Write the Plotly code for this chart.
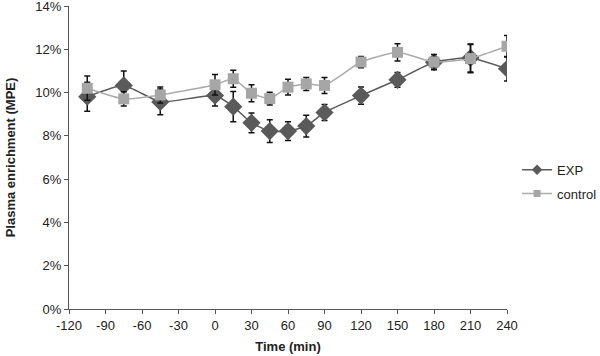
import plotly.graph_objects as go

time_min = [-105, -75, -45, 0, 15, 30, 45, 60, 75, 90, 120, 150, 180, 210, 240]
exp_vals = [9.81, 10.33, 9.57, 9.86, 9.35, 8.60, 8.22, 8.22, 8.45, 9.08, 9.86, 10.59, 11.40, 11.60, 11.10]
exp_err = [0.67, 0.67, 0.60, 0.48, 0.70, 0.46, 0.53, 0.43, 0.50, 0.37, 0.40, 0.34, 0.25, 0.65, 0.57]
ctrl_vals = [10.20, 9.71, 9.89, 10.36, 10.64, 9.97, 9.72, 10.25, 10.40, 10.33, 11.41, 11.86, 11.41, 11.57, 12.14]
ctrl_err = [0.56, 0.33, 0.37, 0.47, 0.39, 0.39, 0.30, 0.36, 0.30, 0.37, 0.26, 0.40, 0.35, 0.65, 0.50]
x_ticks = [-120, -90, -60, -30, 0, 30, 60, 90, 120, 150, 180, 210, 240]
y_ticks = [0, 2, 4, 6, 8, 10, 12, 14]

EXP_COLOR = "#5a5a5a"
CTRL_COLOR = "#a6a6a6"

fig = go.Figure()
fig.add_trace(go.Scatter(
    x=time_min, y=exp_vals, name="EXP", mode="lines+markers", showlegend=False,
    line=dict(color=EXP_COLOR, width=1.5, shape="spline", smoothing=0.5),
    marker=dict(symbol="diamond", size=14, color=EXP_COLOR),
    error_y=dict(type="data", array=exp_err, color="#111111", thickness=1.5, width=3),
))
fig.add_trace(go.Scatter(
    x=time_min, y=ctrl_vals, name="control", mode="lines+markers", showlegend=False,
    line=dict(color="#ababab", width=1.5, shape="spline", smoothing=0.5),
    marker=dict(symbol="square", size=11, color=CTRL_COLOR),
    error_y=dict(type="data", array=ctrl_err, color="#111111", thickness=1.5, width=3),
))
# legend entries (smaller symbols as in the reference legend)
fig.add_trace(go.Scatter(
    x=[None], y=[None], name="EXP", mode="lines+markers", legendgroup="a",
    line=dict(color=EXP_COLOR, width=1.5),
    marker=dict(symbol="diamond", size=8, color=EXP_COLOR),
))
fig.add_trace(go.Scatter(
    x=[None], y=[None], name="control", mode="lines+markers", legendgroup="b",
    line=dict(color="#ababab", width=1.5),
    marker=dict(symbol="square", size=7, color=CTRL_COLOR),
))

fig.update_layout(
    width=600, height=356,
    margin=dict(l=69, r=93, t=6, b=47, autoexpand=False),
    paper_bgcolor="white", plot_bgcolor="white",
    font=dict(family="Liberation Sans, Arial, sans-serif", size=13, color="#222222"),
    showlegend=True,
    legend=dict(x=1.023, y=0.42, xanchor="left", yanchor="middle",
                font=dict(size=13, color="#222222"), tracegroupgap=4,
                itemwidth=30, bgcolor="rgba(0,0,0,0)"),
)
fig.update_xaxes(
    range=[-120, 240], tickvals=x_ticks, ticktext=[str(v) for v in x_ticks],
    showgrid=False, zeroline=False, showline=True, linecolor="#555555", linewidth=1.2,
    ticks="outside", ticklen=4, tickcolor="#555555", automargin=False,
    ticklabeloverflow="allow",
    title=dict(text="<b>Time (min)</b>", font=dict(size=13), standoff=10),
)
fig.update_yaxes(
    range=[0, 14], tickvals=y_ticks, ticktext=[f"{v}%" for v in y_ticks],
    showgrid=False, zeroline=False, showline=True, linecolor="#555555", linewidth=1.2,
    ticks="outside", ticklen=4, tickcolor="#555555", automargin=False,
    ticklabeloverflow="allow",
    title=dict(text="<b>Plasma enrichment (MPE)</b>", font=dict(size=13), standoff=16),
)

fig.write_html(
    "out.html",
    config={"displayModeBar": False},
    post_script="document.body.style.margin='0';document.body.style.overflow='hidden';",
)
